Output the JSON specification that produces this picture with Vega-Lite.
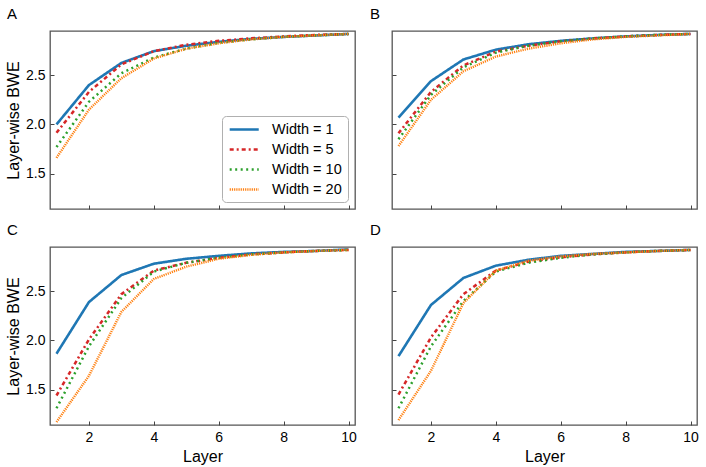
{
  "$schema": "https://vega.github.io/schema/vega-lite/v6.json",
  "background": "white",
  "padding": {"left": 4, "top": 6, "right": 1, "bottom": 2},
  "datasets": {
    "bwe": [
      {"panel": "A", "series": "Width = 1", "layer": 1, "bwe": 2.0},
      {"panel": "A", "series": "Width = 1", "layer": 2, "bwe": 2.4},
      {"panel": "A", "series": "Width = 1", "layer": 3, "bwe": 2.625},
      {"panel": "A", "series": "Width = 1", "layer": 4, "bwe": 2.745},
      {"panel": "A", "series": "Width = 1", "layer": 5, "bwe": 2.8},
      {"panel": "A", "series": "Width = 1", "layer": 6, "bwe": 2.84},
      {"panel": "A", "series": "Width = 1", "layer": 7, "bwe": 2.87},
      {"panel": "A", "series": "Width = 1", "layer": 8, "bwe": 2.89},
      {"panel": "A", "series": "Width = 1", "layer": 9, "bwe": 2.905},
      {"panel": "A", "series": "Width = 1", "layer": 10, "bwe": 2.92},
      {"panel": "A", "series": "Width = 5", "layer": 1, "bwe": 1.915},
      {"panel": "A", "series": "Width = 5", "layer": 2, "bwe": 2.33},
      {"panel": "A", "series": "Width = 5", "layer": 3, "bwe": 2.61},
      {"panel": "A", "series": "Width = 5", "layer": 4, "bwe": 2.745},
      {"panel": "A", "series": "Width = 5", "layer": 5, "bwe": 2.81},
      {"panel": "A", "series": "Width = 5", "layer": 6, "bwe": 2.85},
      {"panel": "A", "series": "Width = 5", "layer": 7, "bwe": 2.875},
      {"panel": "A", "series": "Width = 5", "layer": 8, "bwe": 2.895},
      {"panel": "A", "series": "Width = 5", "layer": 9, "bwe": 2.91},
      {"panel": "A", "series": "Width = 5", "layer": 10, "bwe": 2.92},
      {"panel": "A", "series": "Width = 10", "layer": 1, "bwe": 1.77},
      {"panel": "A", "series": "Width = 10", "layer": 2, "bwe": 2.23},
      {"panel": "A", "series": "Width = 10", "layer": 3, "bwe": 2.52},
      {"panel": "A", "series": "Width = 10", "layer": 4, "bwe": 2.68},
      {"panel": "A", "series": "Width = 10", "layer": 5, "bwe": 2.77},
      {"panel": "A", "series": "Width = 10", "layer": 6, "bwe": 2.83},
      {"panel": "A", "series": "Width = 10", "layer": 7, "bwe": 2.865},
      {"panel": "A", "series": "Width = 10", "layer": 8, "bwe": 2.89},
      {"panel": "A", "series": "Width = 10", "layer": 9, "bwe": 2.905},
      {"panel": "A", "series": "Width = 10", "layer": 10, "bwe": 2.92},
      {"panel": "A", "series": "Width = 20", "layer": 1, "bwe": 1.66},
      {"panel": "A", "series": "Width = 20", "layer": 2, "bwe": 2.15},
      {"panel": "A", "series": "Width = 20", "layer": 3, "bwe": 2.47},
      {"panel": "A", "series": "Width = 20", "layer": 4, "bwe": 2.67},
      {"panel": "A", "series": "Width = 20", "layer": 5, "bwe": 2.77},
      {"panel": "A", "series": "Width = 20", "layer": 6, "bwe": 2.825},
      {"panel": "A", "series": "Width = 20", "layer": 7, "bwe": 2.865},
      {"panel": "A", "series": "Width = 20", "layer": 8, "bwe": 2.89},
      {"panel": "A", "series": "Width = 20", "layer": 9, "bwe": 2.905},
      {"panel": "A", "series": "Width = 20", "layer": 10, "bwe": 2.92},

      {"panel": "B", "series": "Width = 1", "layer": 1, "bwe": 2.07},
      {"panel": "B", "series": "Width = 1", "layer": 2, "bwe": 2.44},
      {"panel": "B", "series": "Width = 1", "layer": 3, "bwe": 2.66},
      {"panel": "B", "series": "Width = 1", "layer": 4, "bwe": 2.76},
      {"panel": "B", "series": "Width = 1", "layer": 5, "bwe": 2.815},
      {"panel": "B", "series": "Width = 1", "layer": 6, "bwe": 2.85},
      {"panel": "B", "series": "Width = 1", "layer": 7, "bwe": 2.875},
      {"panel": "B", "series": "Width = 1", "layer": 8, "bwe": 2.895},
      {"panel": "B", "series": "Width = 1", "layer": 9, "bwe": 2.91},
      {"panel": "B", "series": "Width = 1", "layer": 10, "bwe": 2.92},
      {"panel": "B", "series": "Width = 5", "layer": 1, "bwe": 1.91},
      {"panel": "B", "series": "Width = 5", "layer": 2, "bwe": 2.33},
      {"panel": "B", "series": "Width = 5", "layer": 3, "bwe": 2.6},
      {"panel": "B", "series": "Width = 5", "layer": 4, "bwe": 2.74},
      {"panel": "B", "series": "Width = 5", "layer": 5, "bwe": 2.8},
      {"panel": "B", "series": "Width = 5", "layer": 6, "bwe": 2.845},
      {"panel": "B", "series": "Width = 5", "layer": 7, "bwe": 2.875},
      {"panel": "B", "series": "Width = 5", "layer": 8, "bwe": 2.895},
      {"panel": "B", "series": "Width = 5", "layer": 9, "bwe": 2.91},
      {"panel": "B", "series": "Width = 5", "layer": 10, "bwe": 2.92},
      {"panel": "B", "series": "Width = 10", "layer": 1, "bwe": 1.85},
      {"panel": "B", "series": "Width = 10", "layer": 2, "bwe": 2.3},
      {"panel": "B", "series": "Width = 10", "layer": 3, "bwe": 2.58},
      {"panel": "B", "series": "Width = 10", "layer": 4, "bwe": 2.73},
      {"panel": "B", "series": "Width = 10", "layer": 5, "bwe": 2.8},
      {"panel": "B", "series": "Width = 10", "layer": 6, "bwe": 2.845},
      {"panel": "B", "series": "Width = 10", "layer": 7, "bwe": 2.875},
      {"panel": "B", "series": "Width = 10", "layer": 8, "bwe": 2.895},
      {"panel": "B", "series": "Width = 10", "layer": 9, "bwe": 2.91},
      {"panel": "B", "series": "Width = 10", "layer": 10, "bwe": 2.92},
      {"panel": "B", "series": "Width = 20", "layer": 1, "bwe": 1.78},
      {"panel": "B", "series": "Width = 20", "layer": 2, "bwe": 2.25},
      {"panel": "B", "series": "Width = 20", "layer": 3, "bwe": 2.54},
      {"panel": "B", "series": "Width = 20", "layer": 4, "bwe": 2.69},
      {"panel": "B", "series": "Width = 20", "layer": 5, "bwe": 2.77},
      {"panel": "B", "series": "Width = 20", "layer": 6, "bwe": 2.825},
      {"panel": "B", "series": "Width = 20", "layer": 7, "bwe": 2.865},
      {"panel": "B", "series": "Width = 20", "layer": 8, "bwe": 2.89},
      {"panel": "B", "series": "Width = 20", "layer": 9, "bwe": 2.905},
      {"panel": "B", "series": "Width = 20", "layer": 10, "bwe": 2.92},

      {"panel": "C", "series": "Width = 1", "layer": 1, "bwe": 1.865},
      {"panel": "C", "series": "Width = 1", "layer": 2, "bwe": 2.39},
      {"panel": "C", "series": "Width = 1", "layer": 3, "bwe": 2.665},
      {"panel": "C", "series": "Width = 1", "layer": 4, "bwe": 2.78},
      {"panel": "C", "series": "Width = 1", "layer": 5, "bwe": 2.83},
      {"panel": "C", "series": "Width = 1", "layer": 6, "bwe": 2.86},
      {"panel": "C", "series": "Width = 1", "layer": 7, "bwe": 2.885},
      {"panel": "C", "series": "Width = 1", "layer": 8, "bwe": 2.9},
      {"panel": "C", "series": "Width = 1", "layer": 9, "bwe": 2.91},
      {"panel": "C", "series": "Width = 1", "layer": 10, "bwe": 2.925},
      {"panel": "C", "series": "Width = 5", "layer": 1, "bwe": 1.44},
      {"panel": "C", "series": "Width = 5", "layer": 2, "bwe": 2.01},
      {"panel": "C", "series": "Width = 5", "layer": 3, "bwe": 2.47},
      {"panel": "C", "series": "Width = 5", "layer": 4, "bwe": 2.71},
      {"panel": "C", "series": "Width = 5", "layer": 5, "bwe": 2.79},
      {"panel": "C", "series": "Width = 5", "layer": 6, "bwe": 2.84},
      {"panel": "C", "series": "Width = 5", "layer": 7, "bwe": 2.875},
      {"panel": "C", "series": "Width = 5", "layer": 8, "bwe": 2.895},
      {"panel": "C", "series": "Width = 5", "layer": 9, "bwe": 2.91},
      {"panel": "C", "series": "Width = 5", "layer": 10, "bwe": 2.92},
      {"panel": "C", "series": "Width = 10", "layer": 1, "bwe": 1.31},
      {"panel": "C", "series": "Width = 10", "layer": 2, "bwe": 1.94},
      {"panel": "C", "series": "Width = 10", "layer": 3, "bwe": 2.43},
      {"panel": "C", "series": "Width = 10", "layer": 4, "bwe": 2.7},
      {"panel": "C", "series": "Width = 10", "layer": 5, "bwe": 2.79},
      {"panel": "C", "series": "Width = 10", "layer": 6, "bwe": 2.84},
      {"panel": "C", "series": "Width = 10", "layer": 7, "bwe": 2.875},
      {"panel": "C", "series": "Width = 10", "layer": 8, "bwe": 2.895},
      {"panel": "C", "series": "Width = 10", "layer": 9, "bwe": 2.91},
      {"panel": "C", "series": "Width = 10", "layer": 10, "bwe": 2.92},
      {"panel": "C", "series": "Width = 20", "layer": 1, "bwe": 1.17},
      {"panel": "C", "series": "Width = 20", "layer": 2, "bwe": 1.64},
      {"panel": "C", "series": "Width = 20", "layer": 3, "bwe": 2.29},
      {"panel": "C", "series": "Width = 20", "layer": 4, "bwe": 2.625},
      {"panel": "C", "series": "Width = 20", "layer": 5, "bwe": 2.75},
      {"panel": "C", "series": "Width = 20", "layer": 6, "bwe": 2.83},
      {"panel": "C", "series": "Width = 20", "layer": 7, "bwe": 2.87},
      {"panel": "C", "series": "Width = 20", "layer": 8, "bwe": 2.895},
      {"panel": "C", "series": "Width = 20", "layer": 9, "bwe": 2.91},
      {"panel": "C", "series": "Width = 20", "layer": 10, "bwe": 2.92},

      {"panel": "D", "series": "Width = 1", "layer": 1, "bwe": 1.84},
      {"panel": "D", "series": "Width = 1", "layer": 2, "bwe": 2.36},
      {"panel": "D", "series": "Width = 1", "layer": 3, "bwe": 2.635},
      {"panel": "D", "series": "Width = 1", "layer": 4, "bwe": 2.76},
      {"panel": "D", "series": "Width = 1", "layer": 5, "bwe": 2.82},
      {"panel": "D", "series": "Width = 1", "layer": 6, "bwe": 2.86},
      {"panel": "D", "series": "Width = 1", "layer": 7, "bwe": 2.88},
      {"panel": "D", "series": "Width = 1", "layer": 8, "bwe": 2.9},
      {"panel": "D", "series": "Width = 1", "layer": 9, "bwe": 2.91},
      {"panel": "D", "series": "Width = 1", "layer": 10, "bwe": 2.92},
      {"panel": "D", "series": "Width = 5", "layer": 1, "bwe": 1.45},
      {"panel": "D", "series": "Width = 5", "layer": 2, "bwe": 2.03},
      {"panel": "D", "series": "Width = 5", "layer": 3, "bwe": 2.47},
      {"panel": "D", "series": "Width = 5", "layer": 4, "bwe": 2.71},
      {"panel": "D", "series": "Width = 5", "layer": 5, "bwe": 2.8},
      {"panel": "D", "series": "Width = 5", "layer": 6, "bwe": 2.845},
      {"panel": "D", "series": "Width = 5", "layer": 7, "bwe": 2.875},
      {"panel": "D", "series": "Width = 5", "layer": 8, "bwe": 2.895},
      {"panel": "D", "series": "Width = 5", "layer": 9, "bwe": 2.91},
      {"panel": "D", "series": "Width = 5", "layer": 10, "bwe": 2.92},
      {"panel": "D", "series": "Width = 10", "layer": 1, "bwe": 1.31},
      {"panel": "D", "series": "Width = 10", "layer": 2, "bwe": 1.94},
      {"panel": "D", "series": "Width = 10", "layer": 3, "bwe": 2.4},
      {"panel": "D", "series": "Width = 10", "layer": 4, "bwe": 2.7},
      {"panel": "D", "series": "Width = 10", "layer": 5, "bwe": 2.79},
      {"panel": "D", "series": "Width = 10", "layer": 6, "bwe": 2.84},
      {"panel": "D", "series": "Width = 10", "layer": 7, "bwe": 2.875},
      {"panel": "D", "series": "Width = 10", "layer": 8, "bwe": 2.895},
      {"panel": "D", "series": "Width = 10", "layer": 9, "bwe": 2.91},
      {"panel": "D", "series": "Width = 10", "layer": 10, "bwe": 2.92},
      {"panel": "D", "series": "Width = 20", "layer": 1, "bwe": 1.19},
      {"panel": "D", "series": "Width = 20", "layer": 2, "bwe": 1.69},
      {"panel": "D", "series": "Width = 20", "layer": 3, "bwe": 2.38},
      {"panel": "D", "series": "Width = 20", "layer": 4, "bwe": 2.71},
      {"panel": "D", "series": "Width = 20", "layer": 5, "bwe": 2.81},
      {"panel": "D", "series": "Width = 20", "layer": 6, "bwe": 2.855},
      {"panel": "D", "series": "Width = 20", "layer": 7, "bwe": 2.88},
      {"panel": "D", "series": "Width = 20", "layer": 8, "bwe": 2.895},
      {"panel": "D", "series": "Width = 20", "layer": 9, "bwe": 2.91},
      {"panel": "D", "series": "Width = 20", "layer": 10, "bwe": 2.92}
    ]
  },
  "columns": 2,
  "spacing": {"row": 38, "column": 37},
  "bounds": "flush",
  "resolve": {"legend": {"color": "independent", "strokeDash": "independent"}},
  "concat": [
    {
      "title": {"text": "A", "dx": -43},
      "width": 305,
      "height": 178,
      "data": {"name": "bwe"},
      "transform": [{"filter": "datum.panel === 'A'"}],
      "mark": {"type": "line", "clip": true},
      "encoding": {
        "x": {"field": "layer", "type": "quantitative", "scale": {"domain": [0.8, 10.2], "nice": false, "zero": false},
              "axis": {"values": [2, 4, 6, 8, 10], "labels": false, "title": null}},
        "y": {"field": "bwe", "type": "quantitative", "scale": {"domain": [1.14, 2.95], "nice": false, "zero": false},
              "axis": {"values": [1.5, 2.0, 2.5], "format": ".1f", "title": "Layer-wise BWE"}},
        "color": {"field": "series", "type": "nominal",
                  "scale": {"domain": ["Width = 1", "Width = 5", "Width = 10", "Width = 20"], "range": ["#1f77b4", "#d62728", "#2ca02c", "#ff7f0e"]},
                  "legend": {"title": null, "orient": "bottom-right"}},
        "strokeDash": {"field": "series", "type": "nominal",
                       "scale": {"domain": ["Width = 1", "Width = 5", "Width = 10", "Width = 20"], "range": [[1, 0], [4, 3, 2, 3], [2, 3.5], [1.2, 1]]},
                       "legend": {"title": null, "orient": "bottom-right"}},
        "strokeWidth": {"field": "series", "type": "ordinal",
                        "scale": {"domain": ["Width = 1", "Width = 5", "Width = 10", "Width = 20"], "range": [2.6, 2.4, 2, 2]},
                        "legend": null}
      }
    },
    {
      "title": {"text": "B", "dx": -22},
      "width": 305,
      "height": 178,
      "data": {"name": "bwe"},
      "transform": [{"filter": "datum.panel === 'B'"}],
      "mark": {"type": "line", "clip": true},
      "encoding": {
        "x": {"field": "layer", "type": "quantitative", "scale": {"domain": [0.8, 10.2], "nice": false, "zero": false},
              "axis": {"values": [2, 4, 6, 8, 10], "labels": false, "title": null}},
        "y": {"field": "bwe", "type": "quantitative", "scale": {"domain": [1.14, 2.95], "nice": false, "zero": false},
              "axis": {"values": [1.5, 2.0, 2.5], "labels": false, "title": null}},
        "color": {"field": "series", "type": "nominal",
                  "scale": {"domain": ["Width = 1", "Width = 5", "Width = 10", "Width = 20"], "range": ["#1f77b4", "#d62728", "#2ca02c", "#ff7f0e"]},
                  "legend": null},
        "strokeDash": {"field": "series", "type": "nominal",
                       "scale": {"domain": ["Width = 1", "Width = 5", "Width = 10", "Width = 20"], "range": [[1, 0], [4, 3, 2, 3], [2, 3.5], [1.2, 1]]},
                       "legend": null},
        "strokeWidth": {"field": "series", "type": "ordinal",
                        "scale": {"domain": ["Width = 1", "Width = 5", "Width = 10", "Width = 20"], "range": [2.6, 2.4, 2, 2]},
                        "legend": null}
      }
    },
    {
      "title": {"text": "C", "dx": -43},
      "width": 305,
      "height": 178,
      "data": {"name": "bwe"},
      "transform": [{"filter": "datum.panel === 'C'"}],
      "mark": {"type": "line", "clip": true},
      "encoding": {
        "x": {"field": "layer", "type": "quantitative", "scale": {"domain": [0.8, 10.2], "nice": false, "zero": false},
              "axis": {"values": [2, 4, 6, 8, 10], "title": "Layer"}},
        "y": {"field": "bwe", "type": "quantitative", "scale": {"domain": [1.14, 2.95], "nice": false, "zero": false},
              "axis": {"values": [1.5, 2.0, 2.5], "format": ".1f", "title": "Layer-wise BWE"}},
        "color": {"field": "series", "type": "nominal",
                  "scale": {"domain": ["Width = 1", "Width = 5", "Width = 10", "Width = 20"], "range": ["#1f77b4", "#d62728", "#2ca02c", "#ff7f0e"]},
                  "legend": null},
        "strokeDash": {"field": "series", "type": "nominal",
                       "scale": {"domain": ["Width = 1", "Width = 5", "Width = 10", "Width = 20"], "range": [[1, 0], [4, 3, 2, 3], [2, 3.5], [1.2, 1]]},
                       "legend": null},
        "strokeWidth": {"field": "series", "type": "ordinal",
                        "scale": {"domain": ["Width = 1", "Width = 5", "Width = 10", "Width = 20"], "range": [2.6, 2.4, 2, 2]},
                        "legend": null}
      }
    },
    {
      "title": {"text": "D", "dx": -22},
      "width": 305,
      "height": 178,
      "data": {"name": "bwe"},
      "transform": [{"filter": "datum.panel === 'D'"}],
      "mark": {"type": "line", "clip": true},
      "encoding": {
        "x": {"field": "layer", "type": "quantitative", "scale": {"domain": [0.8, 10.2], "nice": false, "zero": false},
              "axis": {"values": [2, 4, 6, 8, 10], "title": "Layer"}},
        "y": {"field": "bwe", "type": "quantitative", "scale": {"domain": [1.14, 2.95], "nice": false, "zero": false},
              "axis": {"values": [1.5, 2.0, 2.5], "labels": false, "title": null}},
        "color": {"field": "series", "type": "nominal",
                  "scale": {"domain": ["Width = 1", "Width = 5", "Width = 10", "Width = 20"], "range": ["#1f77b4", "#d62728", "#2ca02c", "#ff7f0e"]},
                  "legend": null},
        "strokeDash": {"field": "series", "type": "nominal",
                       "scale": {"domain": ["Width = 1", "Width = 5", "Width = 10", "Width = 20"], "range": [[1, 0], [4, 3, 2, 3], [2, 3.5], [1.2, 1]]},
                       "legend": null},
        "strokeWidth": {"field": "series", "type": "ordinal",
                        "scale": {"domain": ["Width = 1", "Width = 5", "Width = 10", "Width = 20"], "range": [2.6, 2.4, 2, 2]},
                        "legend": null}
      }
    }
  ],
  "config": {
    "font": "Liberation Sans",
    "view": {"stroke": "#555555", "strokeWidth": 1.3},
    "title": {"anchor": "start", "frame": "group", "fontSize": 15, "fontWeight": "normal", "color": "black", "offset": 9},
    "axis": {
      "domain": false,
      "grid": false,
      "tickSize": -4,
      "tickColor": "#444444",
      "tickWidth": 1,
      "labelFontSize": 14,
      "labelColor": "black",
      "labelPadding": 9,
      "titleFontSize": 16,
      "titleFontWeight": "normal",
      "titleColor": "black",
      "titlePadding": 4
    },
    "legend": {
      "symbolType": "M-1,0L4,0",
      "symbolSize": 135,
      "symbolStrokeWidth": 2.4,
      "labelFontSize": 14.5,
      "labelColor": "black",
      "labelOffset": 29,
      "padding": 6,
      "rowPadding": 5,
      "offset": 7,
      "strokeColor": "#b0b0b0",
      "fillColor": "white",
      "cornerRadius": 4
    }
  }
}
